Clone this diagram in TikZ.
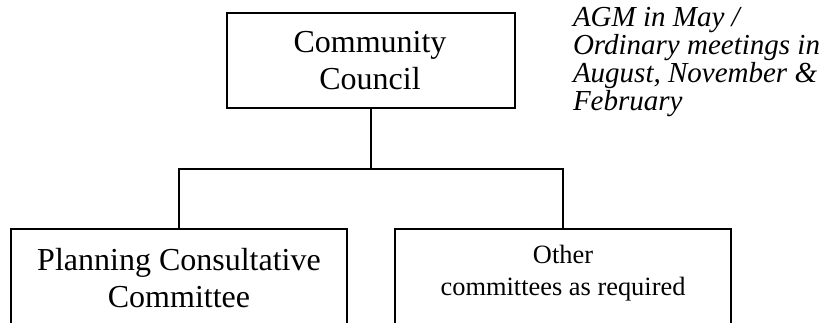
\documentclass[tikz,border=0pt]{standalone}
\usepackage{fontspec}
\setmainfont{Liberation Serif}
\begin{document}
\begin{tikzpicture}[x=1pt,y=-1pt,line width=2pt,
  box/.style={draw,rectangle,inner sep=0pt,outer sep=0pt},
  bigtext/.style={font=\fontsize{32}{37}\selectfont,align=center,inner sep=0pt},
  smalltext/.style={font=\fontsize{26.4}{32}\selectfont,align=center,inner sep=0pt},
  notetext/.style={font=\fontsize{29}{28}\selectfont\itshape,align=left,inner sep=0pt}]
\useasboundingbox (0,0) rectangle (829,323);
\clip (0,0) rectangle (829,323);
\node[box,minimum width=288pt,minimum height=95pt,anchor=north west] (cc) at (227,13) {};
\node[bigtext,anchor=base] (cctext) at (370,90) {Community\\Council};
\node[box,minimum width=336pt,minimum height=130pt,anchor=north west] (pcc) at (11,229) {};
\node[box,minimum width=336pt,minimum height=130pt,anchor=north west] (occ) at (395,229) {};
\node[bigtext,anchor=base] (pcctext) at (179,307) {Planning Consultative\\Committee};
\node[smalltext,anchor=base] (occtext) at (563,295) {Other\\committees as required};
\node[notetext,anchor=base west] (note) at (572,111) {AGM in May /\\Ordinary meetings in\\August, November \&\\February};
\coordinate (j) at (371,169);
\draw (cc.south) -- (j);
\draw (pcc.north) |- (j) -| (occ.north);
\end{tikzpicture}
\end{document}
